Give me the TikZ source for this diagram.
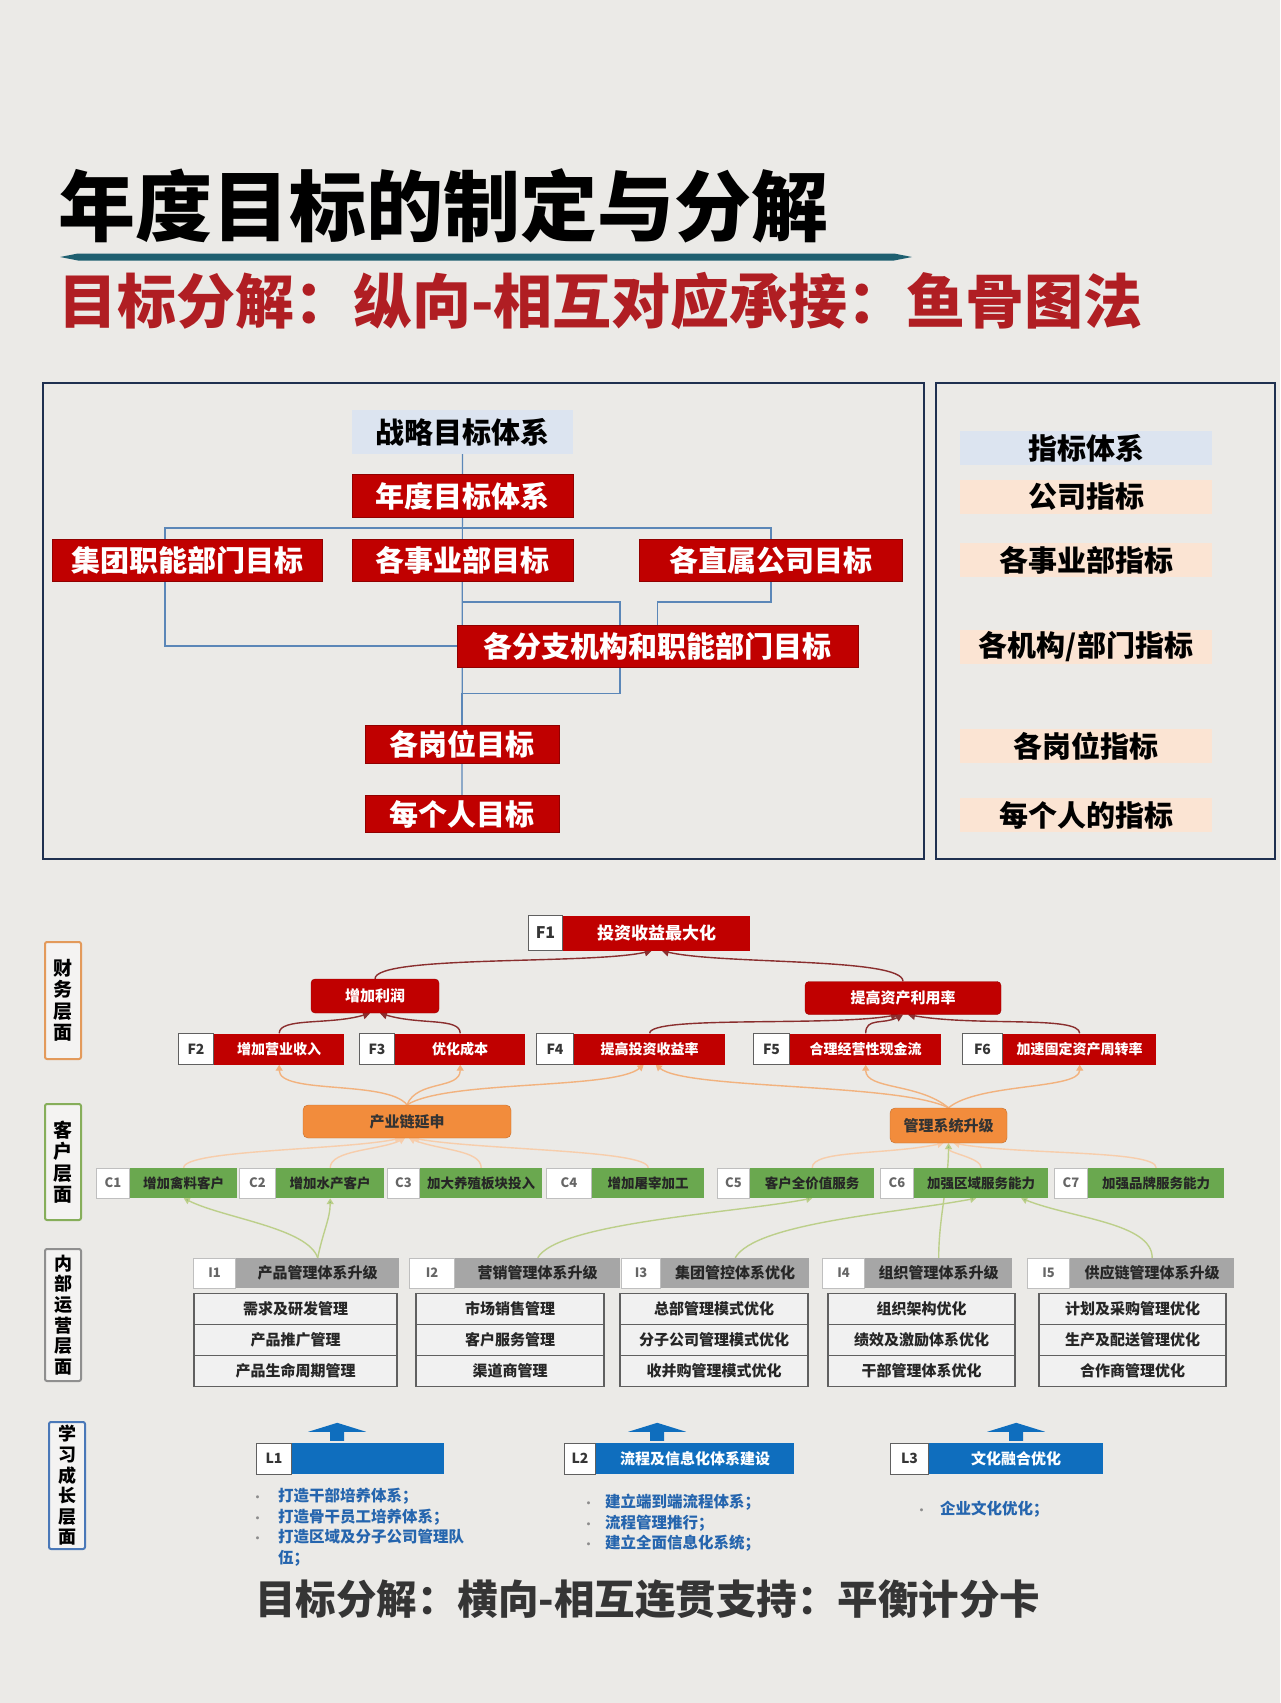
\documentclass[tikz,border=0pt]{standalone}
\usepackage{fontspec}
\setmainfont{Noto Sans CJK SC}
\usetikzlibrary{arrows.meta, positioning, calc}
\definecolor{paperBg}{HTML}{EBEAE7}
\definecolor{deepRed}{HTML}{C00000}
\definecolor{titleRed}{HTML}{B01E23}
\definecolor{paleBlue}{HTML}{DCE4F0}
\definecolor{palePeach}{HTML}{FBE4D3}
\definecolor{frameNavy}{HTML}{1F3050}
\definecolor{linkBlue}{HTML}{5B87B8}
\definecolor{ruleTeal}{HTML}{1E5F70}
\definecolor{boneRed}{HTML}{8A2E2E}
\definecolor{chainOrange}{HTML}{F28C3C}
\definecolor{softOrange}{HTML}{F2B27E}
\definecolor{leafGreen}{HTML}{6AA84F}
\definecolor{softGreen}{HTML}{BCCF8A}
\definecolor{headGray}{HTML}{A6A6A6}
\definecolor{cellGray}{HTML}{F1F1F1}
\definecolor{edgeGray}{HTML}{606060}
\definecolor{learnBlue}{HTML}{0F6EBE}
\definecolor{noteBlue}{HTML}{2565AE}
\definecolor{inkGray}{HTML}{353535}
\definecolor{finOrange}{HTML}{E39A5B}
\definecolor{custGreen}{HTML}{86AE5A}
\definecolor{intGray}{HTML}{8F8F8F}
\definecolor{learnEdge}{HTML}{4A78B8}
\pgfdeclarelayer{paper}
\pgfdeclarelayer{links}
\pgfsetlayers{paper,links,main}
\newcommand{\blockup}[2]{\fill[learnBlue] ($(#1.north)+(#2,-2)$) ++(-7,0) -- ++(0,-9) -- ++(-22,0) -- ++(29,-9) -- ++(29,9) -- ++(-22,0) -- ++(0,9) -- cycle;}
\newcommand{\dotmark}[1]{\makebox[#1][l]{\fontsize{11}{11}\selectfont\textcolor{black!45}{•}}}

\begin{document}
\begin{tikzpicture}[x=1pt, y=-1pt,
    treebox/.style={fill=deepRed, draw=deepRed!75!black, text=white, inner sep=0pt, minimum height=42,
      font=\bfseries\fontsize{29}{29}\selectfont},
    indexbox/.style={fill=palePeach, text=black, inner sep=0pt, minimum width=252, minimum height=34,
      font=\bfseries\fontsize{29}{29}\selectfont},
    tline/.style={draw=linkBlue, line width=1.2pt},
    boxframe/.style={draw=frameNavy, line width=1.6pt},
    sidebox/.style={rounded corners=2pt, line width=2pt, fill=white!45!paperBg, align=center, inner sep=0pt,
      minimum width=36, font=\bfseries\fontsize{19}{21.5}\selectfont},
    tagbox/.style={fill=white, draw=edgeGray, line width=1pt, inner sep=0pt, minimum height=31, anchor=west,
      font=\bfseries\fontsize{14}{14}\selectfont, text=inkGray},
    ctag/.style={tagbox, draw=black!25, minimum height=30, text=black!60, font=\bfseries\fontsize{13}{13}\selectfont},
    fbody/.style={fill=deepRed, text=white, inner sep=0pt, minimum height=31, font=\bfseries\fontsize{14}{14}\selectfont},
    fround/.style={fbody, rounded corners=4pt, draw=deepRed!80!black, font=\bfseries\fontsize{15}{15}\selectfont},
    cbody/.style={fill=leafGreen, text=black!85, inner sep=0pt, minimum height=30, font=\bfseries\fontsize{13.5}{13.5}\selectfont},
    cround/.style={fill=chainOrange, draw=chainOrange!80!black, rounded corners=5pt, text=black!80, inner sep=0pt,
      font=\bfseries\fontsize{15}{15}\selectfont},
    ibody/.style={fill=headGray, text=black!85, inner sep=0pt, minimum height=30, font=\bfseries\fontsize{15}{15}\selectfont},
    cell/.style={fill=cellGray, draw=edgeGray, line width=1.8pt, inner sep=0pt, minimum height=31,
      font=\bfseries\fontsize{15}{15}\selectfont, text=black!85},
    lbody/.style={fill=learnBlue, text=white, inner sep=0pt, minimum height=31, font=\bfseries\fontsize{15}{15}\selectfont},
    notes/.style={align=left, inner sep=0pt, anchor=north west, text=noteBlue, font=\bfseries\fontsize{15.5}{20.6}\selectfont},
    bonearrow/.style={draw=boneRed, line width=1.4pt, -{Triangle[width=8pt,length=7pt]}},
    warmarrow/.style={draw=softOrange, line width=1.4pt, -{Triangle[width=7pt,length=6pt]}},
    palearrow/.style={warmarrow, draw=softOrange!65},
    leafarrow/.style={draw=softGreen, line width=1.4pt, -{Triangle[width=7pt,length=6pt,fill=leafGreen!80]}}
  ]
  \begin{pgfonlayer}{paper}
    \fill[paperBg] (0,0) rectangle (1280,1703);
  \end{pgfonlayer}
  \useasboundingbox (0,0) rectangle (1280,1703);

  % headings
  \node[anchor=west, inner sep=0pt, font=\bfseries\fontsize{77}{77}\selectfont] (title) at (58,206) {年度目标的制定与分解};
  \fill[ruleTeal] (60,257) -- (78,253.5) -- (894,253.5) -- (912,257) -- (894,260.5) -- (78,260.5) -- cycle;
  \node[anchor=west, inner sep=0pt, text=titleRed, font=\bfseries\fontsize{59}{59}\selectfont] (subtitle) at (58,301)
    {目标分解：纵向-相互对应承接：鱼骨图法};

  % fishbone tree
  \draw[boxframe] (43,383) rectangle (924,859);
  \draw[boxframe] (936,383) rectangle (1275,859);
  \node[treebox, fill=paleBlue, draw=none, text=black, minimum width=221, minimum height=44] (strat) at (462.5,432) {战略目标体系};
  \node[treebox, minimum width=221, minimum height=43] (annual) at (462.5,496) {年度目标体系};
  \node[treebox, minimum width=270] (grpdept) at (187,560) {集团职能部门目标};
  \node[treebox, minimum width=221] (biz) at (462.5,560) {各事业部目标};
  \node[treebox, minimum width=263] (direct) at (770.5,560) {各直属公司目标};
  \node[treebox, minimum width=401] (branch) at (657.5,646) {各分支机构和职能部门目标};
  \node[treebox, minimum width=194, minimum height=38] (post) at (462,744) {各岗位目标};
  \node[treebox, minimum width=194, minimum height=37] (person) at (462,814) {每个人目标};

  \node[indexbox, fill=paleBlue] (idxhead) at (1086,448) {指标体系};
  \node[indexbox] (idxco) at (1086,497) {公司指标};
  \node[indexbox] (idxbiz) at (1086,560) {各事业部指标};
  \node[indexbox] (idxdept) at (1086,647) {各机构/部门指标};
  \node[indexbox] (idxpost) at (1086,746) {各岗位指标};
  \node[indexbox] (idxperson) at (1086,815) {每个人的指标};

  % scorecard side labels
  \node[sidebox, draw=finOrange, minimum height=117] (finside) at (63,1000.5) {财\\务\\层\\面};
  \node[sidebox, draw=custGreen, minimum height=116] (custside) at (63,1162) {客\\户\\层\\面};
  \node[sidebox, draw=intGray, minimum height=132, font=\bfseries\fontsize{18}{20.7}\selectfont] (intside) at (63,1315)
    {内\\部\\运\\营\\层\\面};
  \node[sidebox, draw=learnEdge, minimum height=127, font=\bfseries\fontsize{18}{20.6}\selectfont] (learnside) at (67,1485.5)
    {学\\习\\成\\长\\层\\面};

  % financial
  \node[tagbox, minimum width=34, minimum height=35, font=\bfseries\fontsize{16}{16}\selectfont] (f1l) at (528,933) {F1};
  \node[fbody, minimum width=187, minimum height=35, right=0pt of f1l, font=\bfseries\fontsize{17}{17}\selectfont] (f1) {投资收益最大化};
  \node[fround, minimum width=128, minimum height=34] (profit) at (375,996) {增加利润};
  \node[fround, minimum width=196, minimum height=33] (assets) at (903,998) {提高资产利用率};
  \node[tagbox, minimum width=35] (f2l) at (178,1049) {F2};
  \node[fbody, minimum width=130, right=0pt of f2l] (f2) {增加营业收入};
  \node[tagbox, minimum width=35] (f3l) at (359,1049) {F3};
  \node[fbody, minimum width=130, right=0pt of f3l] (f3) {优化成本};
  \node[tagbox, minimum width=37] (f4l) at (536,1049) {F4};
  \node[fbody, minimum width=151, right=0pt of f4l] (f4) {提高投资收益率};
  \node[tagbox, minimum width=36] (f5l) at (753,1049) {F5};
  \node[fbody, minimum width=151, right=0pt of f5l] (f5) {合理经营性现金流};
  \node[tagbox, minimum width=40] (f6l) at (962,1049) {F6};
  \node[fbody, minimum width=153, right=0pt of f6l] (f6) {加速固定资产周转率};

  % customer
  \node[cround, minimum width=208, minimum height=33] (chain) at (407,1121.5) {产业链延申};
  \node[cround, minimum width=117, minimum height=35] (mgmt) at (948.5,1125.5) {管理系统升级};
  \node[ctag, minimum width=33] (c1l) at (96,1183) {C1};
  \node[cbody, minimum width=107, right=0pt of c1l] (c1) {增加禽料客户};
  \node[ctag, minimum width=36] (c2l) at (239,1183) {C2};
  \node[cbody, minimum width=108, right=0pt of c2l] (c2) {增加水产客户};
  \node[ctag, minimum width=32] (c3l) at (387,1183) {C3};
  \node[cbody, minimum width=122, right=0pt of c3l] (c3) {加大养殖板块投入};
  \node[ctag, minimum width=45] (c4l) at (546,1183) {C4};
  \node[cbody, minimum width=112, right=0pt of c4l] (c4) {增加屠宰加工};
  \node[ctag, minimum width=32] (c5l) at (717,1183) {C5};
  \node[cbody, minimum width=124, right=0pt of c5l] (c5) {客户全价值服务};
  \node[ctag, minimum width=33] (c6l) at (880,1183) {C6};
  \node[cbody, minimum width=134, right=0pt of c6l] (c6) {加强区域服务能力};
  \node[ctag, minimum width=33] (c7l) at (1054,1183) {C7};
  \node[cbody, minimum width=136, right=0pt of c7l] (c7) {加强品牌服务能力};

  % internal
  \node[ctag, minimum width=42] (i1l) at (193,1273) {I1};
  \node[ibody, minimum width=163, right=0pt of i1l] (i1) {产品管理体系升级};
  \node[ctag, minimum width=45] (i2l) at (409,1273) {I2};
  \node[ibody, minimum width=165, right=0pt of i2l] (i2) {营销管理体系升级};
  \node[ctag, minimum width=39] (i3l) at (621,1273) {I3};
  \node[ibody, minimum width=148, right=0pt of i3l] (i3) {集团管控体系优化};
  \node[ctag, minimum width=42] (i4l) at (822,1273) {I4};
  \node[ibody, minimum width=147, right=0pt of i4l] (i4) {组织管理体系升级};
  \node[ctag, minimum width=42] (i5l) at (1027,1273) {I5};
  \node[ibody, minimum width=164, right=0pt of i5l] (i5) {供应链管理体系升级};

  \node[cell, minimum width=203] (i1a) at (295.5,1309) {需求及研发管理};
  \node[cell, minimum width=203, below=-1.8pt of i1a] (i1b) {产品推广管理};
  \node[cell, minimum width=203, below=-1.8pt of i1b] (i1c) {产品生命周期管理};
  \node[cell, minimum width=188] (i2a) at (510,1309) {市场销售管理};
  \node[cell, minimum width=188, below=-1.8pt of i2a] (i2b) {客户服务管理};
  \node[cell, minimum width=188, below=-1.8pt of i2b] (i2c) {渠道商管理};
  \node[cell, minimum width=188] (i3a) at (714,1309) {总部管理模式优化};
  \node[cell, minimum width=188, below=-1.8pt of i3a] (i3b) {分子公司管理模式优化};
  \node[cell, minimum width=188, below=-1.8pt of i3b] (i3c) {收并购管理模式优化};
  \node[cell, minimum width=187] (i4a) at (921.5,1309) {组织架构优化};
  \node[cell, minimum width=187, below=-1.8pt of i4a] (i4b) {绩效及激励体系优化};
  \node[cell, minimum width=187, below=-1.8pt of i4b] (i4c) {干部管理体系优化};
  \node[cell, minimum width=187] (i5a) at (1132.5,1309) {计划及采购管理优化};
  \node[cell, minimum width=187, below=-1.8pt of i5a] (i5b) {生产及配送管理优化};
  \node[cell, minimum width=187, below=-1.8pt of i5b] (i5c) {合作商管理优化};

  % learning
  \node[tagbox, minimum width=35] (l1l) at (256,1458.5) {L1};
  \node[lbody, minimum width=152, right=0pt of l1l] (l1) {};
  \node[tagbox, minimum width=31] (l2l) at (564,1458.5) {L2};
  \node[lbody, minimum width=198, right=0pt of l2l] (l2) {流程及信息化体系建设};
  \node[tagbox, minimum width=38] (l3l) at (890,1458.5) {L3};
  \node[lbody, minimum width=174, right=0pt of l3l] (l3) {文化融合优化};
  \blockup{l1}{-31}
  \blockup{l2}{-38}
  \blockup{l3}{0}
  \node[notes] (l1notes) at (252,1488)
    {\dotmark{26pt}打造干部培养体系；\\\dotmark{26pt}打造骨干员工培养体系；\\\dotmark{26pt}打造区域及分子公司管理队\\\hspace*{26pt}伍；};
  \node[notes] (l2notes) at (583,1494)
    {\dotmark{22pt}建立端到端流程体系；\\\dotmark{22pt}流程管理推行；\\\dotmark{22pt}建立全面信息化系统；};
  \node[notes] (l3notes) at (916,1501) {\dotmark{24pt}企业文化优化；};

  \node[anchor=west, inner sep=0pt, text=inkGray, font=\bfseries\fontsize{40.5}{40.5}\selectfont] (bottomtitle) at (255,1599)
    {目标分解：横向-相互连贯支持：平衡计分卡};

  \begin{pgfonlayer}{links}
    % tree connectors
    \coordinate (lj) at (165,528);
    \coordinate (rj) at (771,528);
    \coordinate (jmid) at (620,602);
    \draw[tline] (strat.south) -- (person.north);
    \draw[tline] (branch.west) -| (lj) -- (rj) |- (branch.north |- jmid) -- (branch.north);
    \draw[tline] (biz.south) |- (jmid) -- (jmid |- branch.north);
    \draw[tline] (jmid |- branch.south) -- ++(0,26) -| (post.north);

    % financial arrows
    \draw[bonearrow] (f2.north) .. controls +(0,-16) and +(-40,12) .. ([xshift=-5]profit.south);
    \draw[bonearrow] (f3.north) .. controls +(0,-16) and +(40,12) .. ([xshift=5]profit.south);
    \draw[bonearrow] (profit.north) .. controls +(0,-24) and +(-60,14) .. ([xshift=-5]f1.south);
    \draw[bonearrow] (assets.north) .. controls +(0,-24) and +(60,14) .. ([xshift=5]f1.south);
    \draw[bonearrow] (f4.north) .. controls +(0,-18) and +(-70,12) .. ([xshift=-5]assets.south);
    \draw[bonearrow] (f5.north) .. controls +(0,-16) and +(-20,10) .. (assets.south);
    \draw[bonearrow] (f6.north) .. controls +(0,-18) and +(70,12) .. ([xshift=5]assets.south);

    % customer arrows
    \draw[warmarrow] (chain.north) .. controls +(-20,-25) and +(0,30) .. (f2.south);
    \draw[warmarrow] (chain.north) .. controls +(10,-25) and +(0,25) .. (f3.south);
    \draw[warmarrow] (chain.north) .. controls +(40,-25) and +(-30,25) .. ([xshift=-6]f4.south);
    \draw[warmarrow] (mgmt.north) .. controls +(-50,-25) and +(30,25) .. ([xshift=6]f4.south);
    \draw[warmarrow] (mgmt.north) .. controls +(-30,-25) and +(0,25) .. (f5.south);
    \draw[warmarrow] (mgmt.north) .. controls +(30,-25) and +(0,25) .. (f6.south);
    \draw[palearrow] (c1.north) .. controls +(0,-18) and +(-60,12) .. ([xshift=-6]chain.south);
    \draw[palearrow] (c2.north) .. controls +(0,-18) and +(-25,12) .. ([xshift=-2]chain.south);
    \draw[palearrow] (c3.north) .. controls +(0,-18) and +(30,12) .. ([xshift=2]chain.south);
    \draw[palearrow] (c4.north) .. controls +(0,-18) and +(70,12) .. ([xshift=6]chain.south);
    \draw[palearrow] (c5.north) .. controls +(0,-18) and +(-60,12) .. ([xshift=-5]mgmt.south);
    \draw[palearrow] (c6.north) .. controls +(0,-10) and +(0,10) .. (mgmt.south);
    \draw[palearrow] (c7.north) .. controls +(0,-18) and +(70,12) .. ([xshift=5]mgmt.south);

    % internal arrows
    \draw[leafarrow] (i1.north) .. controls +(-10,-30) and +(40,20) .. (c1.south);
    \draw[leafarrow] (i1.north) .. controls +(5,-25) and +(0,20) .. (c2.south);
    \draw[leafarrow] (i2.north) .. controls +(20,-35) and +(-80,15) .. (c5.south);
    \draw[leafarrow] (i3.north) .. controls +(20,-35) and +(-80,15) .. ([xshift=-5]c6.south);
    \draw[leafarrow] (i4.north) .. controls +(0,-40) and +(0,40) .. (mgmt.south);
    \draw[leafarrow] (i5.north) .. controls +(0,-35) and +(50,20) .. ([xshift=40]c6.south);
  \end{pgfonlayer}
\end{tikzpicture}
\end{document}
